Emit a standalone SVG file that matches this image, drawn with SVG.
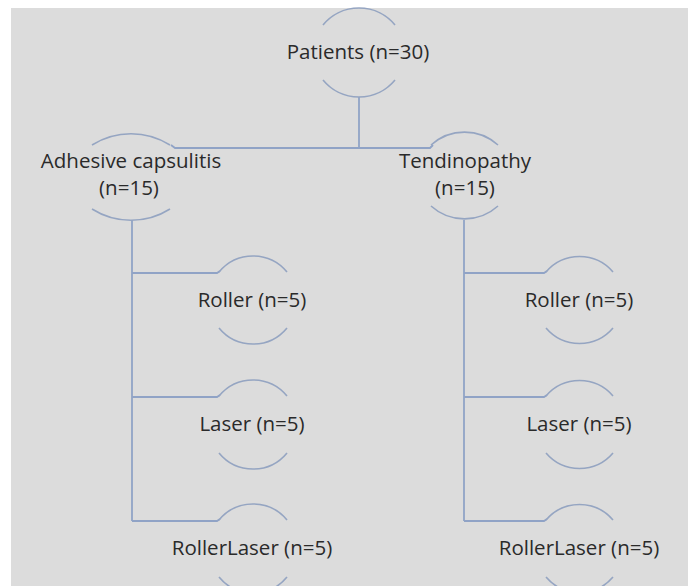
<svg xmlns="http://www.w3.org/2000/svg" width="696" height="586" viewBox="0 0 696 586">
<style>
.bg{fill:#dcdcdc}
.arc{fill:none;stroke:#95a5c2;stroke-width:1.6}
.con{fill:none;stroke:#90a3c6;stroke-width:1.8}
.t{font-family:"Open Sans","Liberation Sans",sans-serif;font-size:20.5px;fill:#2a2a2a;text-anchor:middle}
</style>
<rect width="696" height="586" fill="#ffffff"/>
<rect class="bg" x="11" y="8" width="677" height="578"/>
<g id="connectors">
<path class="con" d="M359 97 V148"/>
<path class="con" d="M171 145 L175 148 H430 L433 145"/>
<path class="con" d="M132 220 V521"/>
<path class="con" d="M132 273 H217 L220 271"/>
<path class="con" d="M132 397 H217 L220 395"/>
<path class="con" d="M132 521 H217 L220 519"/>
<path class="con" d="M464 220 V521"/>
<path class="con" d="M464 273 H544 L547 271"/>
<path class="con" d="M464 397 H544 L547 395"/>
<path class="con" d="M464 521 H544 L547 519"/>
</g>
<g id="patients">
<path class="arc" d="M323 25 A46.6 46.6 0 0 1 395 25"/>
<path class="arc" d="M323 80 A46.6 46.6 0 0 0 395 80"/>
<text class="t" x="358" y="59">Patients (n=30)</text>
</g>
<g id="adhesive">
<path class="arc" d="M92 145 A73 73 0 0 1 170 145"/>
<path class="arc" d="M92 209 A73 73 0 0 0 170 209"/>
<text class="t" x="131" y="168">Adhesive capsulitis</text>
<text class="t" x="129" y="195">(n=15)</text>
</g>
<g id="tendinopathy">
<path class="arc" d="M431 145 A50 50 0 0 1 498 145"/>
<path class="arc" d="M431 206 A50 50 0 0 0 498 206"/>
<text class="t" x="465" y="168">Tendinopathy</text>
<text class="t" x="465" y="195">(n=15)</text>
</g>
<g id="ac-roller">
<path class="arc" d="M219 272 A44 44 0 0 1 287 272"/>
<path class="arc" d="M219 328 A44 44 0 0 0 287 328"/>
<text class="t" x="252" y="307">Roller (n=5)</text>
</g>
<g id="ac-laser">
<path class="arc" d="M219 396 A44 44 0 0 1 287 396"/>
<path class="arc" d="M219 453 A44 44 0 0 0 287 453"/>
<text class="t" x="252" y="431">Laser (n=5)</text>
</g>
<g id="ac-rollerlaser">
<path class="arc" d="M219 520 A44 44 0 0 1 287 520"/>
<path class="arc" d="M219 577 A44 44 0 0 0 287 577"/>
<text class="t" x="252" y="555">RollerLaser (n=5)</text>
</g>
<g id="t-roller">
<path class="arc" d="M546 272 A44 44 0 0 1 613 272"/>
<path class="arc" d="M546 328 A44 44 0 0 0 613 328"/>
<text class="t" x="579" y="307">Roller (n=5)</text>
</g>
<g id="t-laser">
<path class="arc" d="M546 396 A44 44 0 0 1 613 396"/>
<path class="arc" d="M546 453 A44 44 0 0 0 613 453"/>
<text class="t" x="579" y="431">Laser (n=5)</text>
</g>
<g id="t-rollerlaser">
<path class="arc" d="M546 520 A44 44 0 0 1 613 520"/>
<path class="arc" d="M546 577 A44 44 0 0 0 613 577"/>
<text class="t" x="579" y="555">RollerLaser (n=5)</text>
</g>
</svg>
